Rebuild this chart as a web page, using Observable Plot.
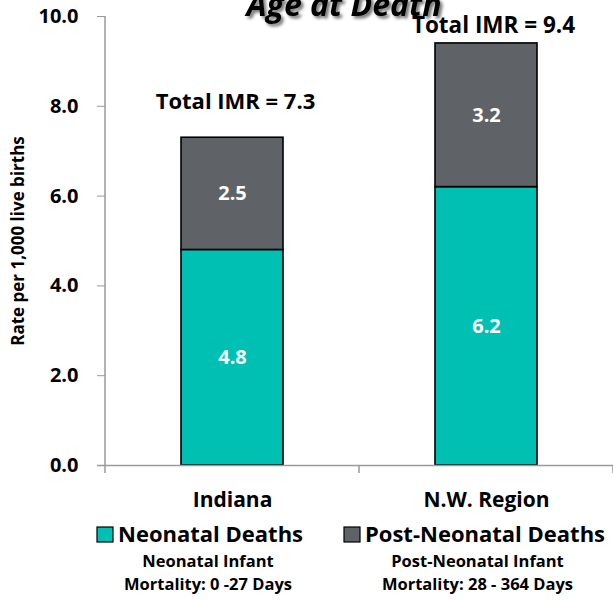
<!DOCTYPE html>
<html><head><meta charset="utf-8">
<script src="https://cdn.jsdelivr.net/npm/d3@7"></script>
<script src="https://cdn.jsdelivr.net/npm/@observablehq/plot@0.6"></script>
<style>
body{margin:0;background:#fff;}
#wrap{position:relative;width:613px;height:600px;overflow:hidden;font-family:"Open Sans",sans-serif;background:#fff;}
#wrap svg{display:block;}
#wrap svg.overlay{position:absolute;left:0;top:0;pointer-events:none;}
</style></head><body><div id="wrap"></div>
<script>
const regions = ["Indiana", "N.W. Region"];
const seriesNames = ["Neonatal Deaths", "Post-Neonatal Deaths"];
const neonatal = [4.8, 6.2];
const postNeonatal = [2.5, 3.2];
const totals = [7.3, 9.4];
const yTicks = [0, 2, 4, 6, 8, 10];
const seriesColors = ["#00BFB3", "#5F6266"];
const subLabels = [["Neonatal Infant", "Mortality: 0 -27 Days"], ["Post-Neonatal Infant", "Mortality: 28 - 364 Days"]];
const titleText = "Age at Death";
const yLabel = "Rate per 1,000 live births";

const rows = regions.flatMap((r, i) => [
  {region: r, type: seriesNames[0], value: neonatal[i]},
  {region: r, type: seriesNames[1], value: postNeonatal[i]}
]);
const totalRows = regions.map((r, i) => ({region: r, total: totals[i]}));

const axisExtras = (index, scales, values, dimensions) => {
  const {x, y} = scales;
  const g = d3.create("svg:g").attr("stroke", "#9a9a9a").attr("stroke-width", 1.5);
  const left = dimensions.marginLeft;
  g.append("line").attr("x1", left).attr("x2", left).attr("y1", y(10)).attr("y2", y(0));
  const bw = x.bandwidth ? x.bandwidth() : 0;
  const step = x(regions[1]) - x(regions[0]);
  const gap = (step - bw) / 2;
  const bounds = [x(regions[0]) - gap, ...regions.map(r => x(r) + bw + gap)];
  for (const b of bounds) g.append("line").attr("x1", b).attr("x2", b).attr("y1", y(0)).attr("y2", y(0) + 8);
  return g.node();
};

const FONT = "'Open Sans', sans-serif";
const totalText = d => `Total IMR = ${d.total.toFixed(1)}`;
const chart = Plot.plot({
  width: 613, height: 600,
  marginLeft: 105, marginRight: 0, marginTop: 16, marginBottom: 135,
  style: {fontFamily: FONT, background: "white", overflow: "visible"},
  x: {domain: regions, paddingInner: 0.6, paddingOuter: 0.3, label: null},
  y: {domain: [0, 10], label: null},
  color: {domain: seriesNames, range: seriesColors},
  marks: [
    Plot.barY(rows, {x: "region", y: "value", fill: "type", stroke: "black", strokeWidth: 1.6}),
    Plot.text(rows, Plot.stackY({x: "region", y: "value", text: d => d.value.toFixed(1), fill: "white", fontSize: 20, fontWeight: "bold"})),
    Plot.text(totalRows.slice(0, 1), {x: "region", y: "total", text: totalText, dx: 3, dy: -29, lineAnchor: "bottom", fontSize: 22, fontWeight: "bold", fill: "black"}),
    Plot.text(totalRows.slice(1), {x: "region", y: "total", text: totalText, dx: 7, dy: -10, lineAnchor: "bottom", fontSize: 22.5, fontWeight: "bold", fill: "black"}),
    Plot.ruleY([0], {stroke: "#9a9a9a", strokeWidth: 1.5, insetLeft: -8}),
    Plot.axisY({ticks: yTicks, tickFormat: d3.format(".1f"), tickSize: 8, tickPadding: 19, fontSize: 20, fontWeight: "bold", stroke: "#9a9a9a", fill: "black", label: null}),
    Plot.axisX({tickSize: 0, tickPadding: 27, fontSize: 21, fontWeight: "bold", fill: "black", label: null}),
    axisExtras
  ]
});

const wrap = document.getElementById("wrap");
wrap.appendChild(chart);

// Overlay: title, y label, legend
const ov = d3.select(wrap).append("svg").attr("class", "overlay").attr("width", 613).attr("height", 600)
  .style("font-family", FONT);
const defs = ov.append("defs");
defs.append("filter").attr("id", "shadow").attr("x", "-10%").attr("y", "-50%").attr("width", "130%").attr("height", "200%")
  .append("feDropShadow").attr("dx", 2.5).attr("dy", 2.5).attr("stdDeviation", 1.6).attr("flood-color", "#000").attr("flood-opacity", 0.55);

ov.append("text").attr("x", 344).attr("y", 16).attr("text-anchor", "middle")
  .attr("font-size", 32).attr("font-weight", "bold").attr("font-style", "italic").attr("filter", "url(#shadow)")
  .text(titleText);

ov.append("text").attr("transform", "translate(24,241) rotate(-90)").attr("text-anchor", "middle")
  .attr("font-size", 17).attr("font-weight", "bold").text(yLabel);

const legendX = [97, 344];
const textX = [118, 365];
const subX = [208, 477.5];
seriesNames.forEach((name, i) => {
  ov.append("rect").attr("x", legendX[i]).attr("y", 527).attr("width", 16).attr("height", 15)
    .attr("fill", seriesColors[i]).attr("stroke", "black").attr("stroke-width", 1.2);
  ov.append("text").attr("x", textX[i]).attr("y", 542).attr("font-size", 22).attr("font-weight", "bold").text(name);
  subLabels[i].forEach((s, j) => {
    ov.append("text").attr("x", subX[i]).attr("y", 566.5 + j * 23).attr("text-anchor", "middle")
      .attr("font-size", 16.5).attr("font-weight", "bold").text(s);
  });
});
</script></body></html>
